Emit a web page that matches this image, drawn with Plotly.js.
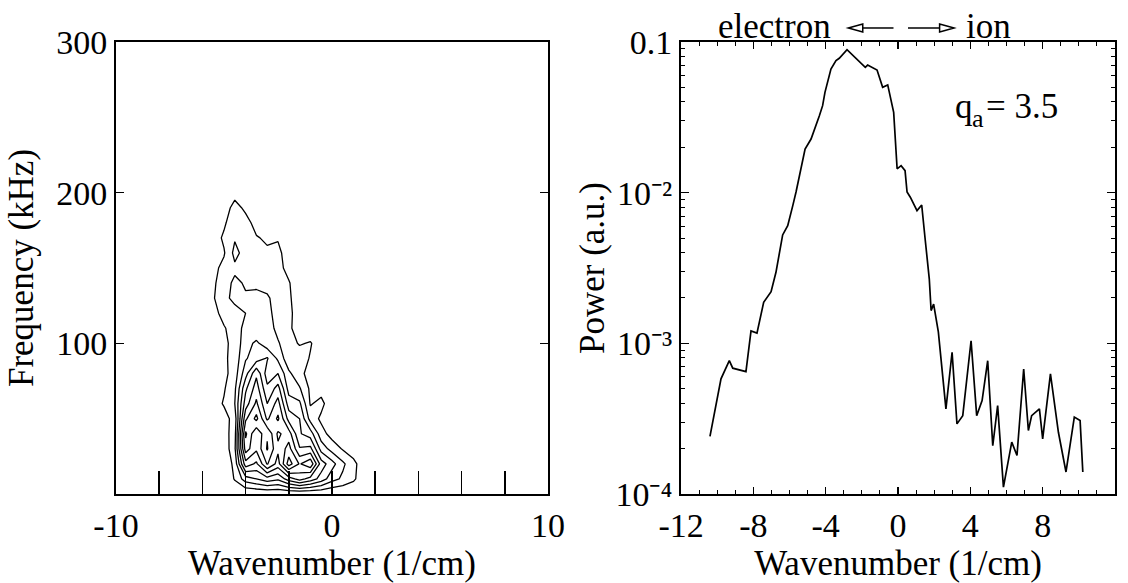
<!DOCTYPE html>
<html>
<head>
<meta charset="utf-8">
<script src="https://cdn.plot.ly/plotly-3.0.1.min.js"></script>
<style>html,body{margin:0;padding:0;background:#fff;}#chart{width:1128px;height:583px;}</style>
</head>
<body>
<div id="chart"></div>
<script>
// ---- Left panel: S(k, f) contour ----
const kGrid = [-6, -5.5, -5, -4.5, -4, -3.5, -3, -2.5, -2, -1.5, -1, -0.5, 0, 0.5, 1, 1.5, 2];
const fGrid = [0, 10, 20, 30, 40, 50, 60, 70, 80, 90, 100, 110, 120, 130, 140, 150, 160, 170, 180, 190, 200, 210];
const sRow000 = [0,0,0,0,0,0,0,0,0,0,0,0,0,0,0,0,0];
const sRow010 = [0,0,0,1.1,2.5,3.0,3.6,3.2,4.5,5.4,4.6,3.6,2.4,1.8,1.2,0.2,0];
const sRow020 = [0,0,0.2,1.3,5.6,4.8,7.1,5.6,8.5,6.9,7.8,4.5,3.4,2.2,1.3,0.3,0];
const sRow030 = [0,0,0.3,1.8,7.5,6.2,8.1,6.2,7.4,5.1,5.3,2.6,1.6,0.9,0.4,0,0];
const sRow040 = [0,0.1,0.5,1.6,8.2,6.1,7.9,5.8,6.5,4.1,3.5,1.4,0.6,0.2,0,0,0];
const sRow050 = [0,0.3,0.6,1.4,6.8,8.3,5.8,7.2,4.6,4.0,1.6,0.8,0.2,0,0,0,0];
const sRow060 = [0,0.5,1.1,2.0,5.5,7.2,5.0,6.4,3.5,3.2,0.9,1.3,0.3,0,0,0,0];
const sRow070 = [0,0.3,0.9,1.8,4.8,6.5,4.2,5.4,2.6,2.1,0.8,0.6,0.1,0,0,0,0];
const sRow080 = [0,0.1,0.7,1.5,3.6,5.8,3.5,4.0,2.2,1.3,0.6,0.2,0,0,0,0,0];
const sRow090 = [0,0.2,0.8,1.4,2.9,3.5,4.1,2.8,1.3,1.6,0.9,0.2,0,0,0,0,0];
const sRow100 = [0,0.1,0.8,1.3,2.6,3.2,2.4,2.1,1.4,0.9,1.1,0.3,0,0,0,0,0];
const sRow110 = [0,0.2,0.9,1.5,2.3,2.2,2.5,1.7,1.2,0.5,0.2,0,0,0,0,0,0];
const sRow120 = [0,0.6,1.4,1.6,2.0,2.6,2.3,1.6,1.3,0.4,0,0,0,0,0,0,0];
const sRow130 = [0,0.9,1.7,2.3,2.1,2.4,2.2,1.4,1.2,0.3,0,0,0,0,0,0,0];
const sRow140 = [0,0.8,1.6,2.2,1.9,1.7,1.5,1.2,1.1,0.2,0,0,0,0,0,0,0];
const sRow150 = [0,0.7,1.3,1.8,1.7,1.6,1.4,1.4,0.6,0.1,0,0,0,0,0,0,0];
const sRow160 = [0,0.3,0.9,2.3,1.6,1.5,1.2,1.3,0.4,0,0,0,0,0,0,0,0];
const sRow170 = [0,0.4,1.2,1.9,1.7,1.1,0.8,0.9,0.2,0,0,0,0,0,0,0,0];
const sRow180 = [0,0,0.8,1.8,1.5,0.5,0.1,0,0,0,0,0,0,0,0,0,0];
const sRow190 = [0,0,0.3,1.5,0.7,0.2,0,0,0,0,0,0,0,0,0,0,0];
const sRow200 = [0,0,0,0.5,0,0,0,0,0,0,0,0,0,0,0,0,0];
const sRow210 = [0,0,0,0,0,0,0,0,0,0,0,0,0,0,0,0,0];
const sGrid = [sRow000, sRow010, sRow020, sRow030, sRow040, sRow050, sRow060, sRow070,
  sRow080, sRow090, sRow100, sRow110, sRow120, sRow130, sRow140, sRow150, sRow160,
  sRow170, sRow180, sRow190, sRow200, sRow210];

// ---- Right panel: power spectrum S(k) ----
const kPower = [-10.40,-10.07,-9.79,-9.33,-9.14,-8.41,-8.13,-7.80,-7.43,-7.02,-6.75,-6.38,-6.10,-5.82,
  -5.64,-5.14,-4.81,-4.35,-4.17,-4.04,-3.71,-3.43,-3.25,-2.82,-2.32,-1.81,-1.68,-1.16,-0.85,-0.57,-0.24,
  -0.05,0.17,0.39,0.50,0.68,1.05,1.31,1.49,1.73,1.83,1.97,2.23,2.65,2.99,3.26,3.58,4.04,4.35,4.65,4.96,
  5.24,5.51,5.83,6.29,6.58,6.95,7.21,7.39,7.82,8.00,8.43,8.87,9.29,9.75,10.07,10.22];
const power = [2.41e-4,3.86e-4,5.81e-4,7.67e-4,6.84e-4,6.49e-4,1.21e-3,1.17e-3,1.87e-3,2.20e-3,2.96e-3,5.24e-3,6.04e-3,8.20e-3,
  1.01e-2,1.95e-2,2.27e-2,3.24e-2,3.78e-2,4.63e-2,6.62e-2,7.52e-2,7.80e-2,8.89e-2,7.80e-2,6.79e-2,7.03e-2,6.52e-2,5.00e-2,5.19e-2,3.41e-2,
  1.44e-2,1.51e-2,1.40e-2,1.01e-2,9.33e-3,7.60e-3,8.28e-3,5.06e-3,2.67e-3,1.65e-3,1.82e-3,1.19e-3,3.67e-4,8.73e-4,2.92e-4,3.31e-4,1.04e-3,3.31e-4,4.17e-4,7.67e-4,
  2.09e-4,3.86e-4,1.11e-4,2.21e-4,1.80e-4,6.76e-4,2.64e-4,3.31e-4,3.67e-4,2.32e-4,6.27e-4,2.57e-4,1.40e-4,3.24e-4,3.07e-4,1.40e-4];

// ---- ticks ----
const leftXLabelTicks = [-10, 0, 10];
const leftXLabels = ['-10', '0', '10'];
const leftXMinorTicks = [-8, -6, -4, -2, 2, 4, 6, 8];
const leftYTicks = [100, 200, 300];
const rightXTicks = [-12, -8, -4, 0, 4, 8, 12];
const rightXLabels = ['-12', '-8', '-4', '0', '4', '8', '12'];
const rightYTicks = [0.1, 0.01, 0.001, 0.0001];
const rightYLabels = ['0.1', '10\u207B\u00B2', '10\u207B\u00B3', '10\u207B\u2074'];
const rightYMinor = [];
[1e-4, 1e-3, 1e-2].forEach(d => { for (let m = 2; m <= 9; m++) rightYMinor.push(m * d); });

const FONT = 'Liberation Serif, Times New Roman, serif';

const traces = [
  {
    type: 'contour', x: kGrid, y: fGrid, z: sGrid, xaxis: 'x', yaxis: 'y',
    contours: {coloring: 'none', start: 1, end: 8, size: 1},
    line: {color: 'black', width: 1.3, smoothing: 0},
    showscale: false, hoverinfo: 'skip'
  },
  {
    type: 'scatter', mode: 'lines', x: kPower, y: power, xaxis: 'x2', yaxis: 'y2',
    line: {color: 'black', width: 1.7}, hoverinfo: 'skip'
  }
];

const axBase = {
  showgrid: false, zeroline: false, showline: true, linecolor: 'black', linewidth: 2,
  ticks: 'inside', tickcolor: 'black', tickwidth: 1.5,
  tickfont: {family: FONT, size: 34, color: 'black'}
};
const titleFont = {family: FONT, size: 35, color: 'black'};

// direction arrows above the spectrum (electron <- | -> ion), in x2 units / paper y
const arrowY = 1.031, headH = 0.009;
const arrowShapes = [
  {type: 'line', xref: 'x2', yref: 'paper', x0: -0.25, x1: -1.95, y0: arrowY, y1: arrowY,
   line: {color: 'black', width: 1.5}},
  {type: 'path', xref: 'x2', yref: 'paper',
   path: `M -2.75,${arrowY} L -1.95,${arrowY + headH} L -1.95,${arrowY - headH} Z`,
   fillcolor: 'white', line: {color: 'black', width: 1.5}},
  {type: 'line', xref: 'x2', yref: 'paper', x0: 0.55, x1: 2.3, y0: arrowY, y1: arrowY,
   line: {color: 'black', width: 1.5}},
  {type: 'path', xref: 'x2', yref: 'paper',
   path: `M 3.1,${arrowY} L 2.3,${arrowY + headH} L 2.3,${arrowY - headH} Z`,
   fillcolor: 'white', line: {color: 'black', width: 1.5}}
];

const layout = {
  width: 1128, height: 583,
  margin: {l: 116, r: 13, t: 42, b: 89},
  paper_bgcolor: 'white', plot_bgcolor: 'white',
  showlegend: false,
  font: {family: FONT, color: 'black'},
  xaxis: Object.assign({}, axBase, {
    domain: [0, 0.4324], anchor: 'y', range: [-10, 10],
    tickvals: leftXLabelTicks, ticktext: leftXLabels, ticklen: 23, mirror: true,
    minor: {tickvals: leftXMinorTicks, ticks: 'inside', ticklen: 23, tickcolor: 'black', tickwidth: 1.5},
    title: {text: 'Wavenumber (1/cm)', font: titleFont, standoff: 8}
  }),
  yaxis: Object.assign({}, axBase, {
    domain: [0, 1], anchor: 'x', range: [0, 300],
    tickvals: leftYTicks, ticklen: 8, mirror: 'ticks',
    title: {text: 'Frequency (kHz)', font: titleFont, standoff: 12}
  }),
  xaxis2: Object.assign({}, axBase, {
    domain: [0.5656, 1], anchor: 'y2', range: [-12, 12],
    tickvals: rightXTicks, ticktext: rightXLabels, ticklen: 7, mirror: 'ticks',
    minor: {dtick: 1, ticks: 'inside', ticklen: 4, tickcolor: 'black', tickwidth: 1},
    title: {text: 'Wavenumber (1/cm)', font: titleFont, standoff: 8}
  }),
  yaxis2: Object.assign({}, axBase, {
    domain: [0, 1], anchor: 'x2', type: 'log', range: [-4, -1],
    tickvals: rightYTicks, ticktext: rightYLabels, ticklen: 8, mirror: 'ticks',
    minor: {tickvals: rightYMinor, ticks: 'inside', ticklen: 4, tickcolor: 'black', tickwidth: 1},
    title: {text: 'Power (a.u.)', font: titleFont, standoff: 0}
  }),
  shapes: arrowShapes,
  annotations: [
    {xref: 'x2', yref: 'paper', x: -3.6, y: 1, xanchor: 'right', yanchor: 'bottom', yshift: -6,
     text: 'electron', showarrow: false, font: {family: FONT, size: 35, color: 'black'}},
    {xref: 'x2', yref: 'paper', x: 3.65, y: 1, xanchor: 'left', yanchor: 'bottom', yshift: -6,
     text: 'ion', showarrow: false, font: {family: FONT, size: 35, color: 'black'}},
    {xref: 'x2', yref: 'y2', x: 3.05, y: -1.425, xanchor: 'left', yanchor: 'middle',
     text: 'q', showarrow: false, font: {family: FONT, size: 35, color: 'black'}},
    {xref: 'x2', yref: 'y2', x: 4.0, y: -1.425, xanchor: 'left', yanchor: 'middle', yshift: -12,
     text: 'a', showarrow: false, font: {family: FONT, size: 26, color: 'black'}},
    {xref: 'x2', yref: 'y2', x: 4.75, y: -1.425, xanchor: 'left', yanchor: 'middle',
     text: '= 3.5', showarrow: false, font: {family: FONT, size: 35, color: 'black'}}
  ]
};

Plotly.newPlot('chart', traces, layout, {displayModeBar: false, staticPlot: true});
</script>
</body>
</html>
